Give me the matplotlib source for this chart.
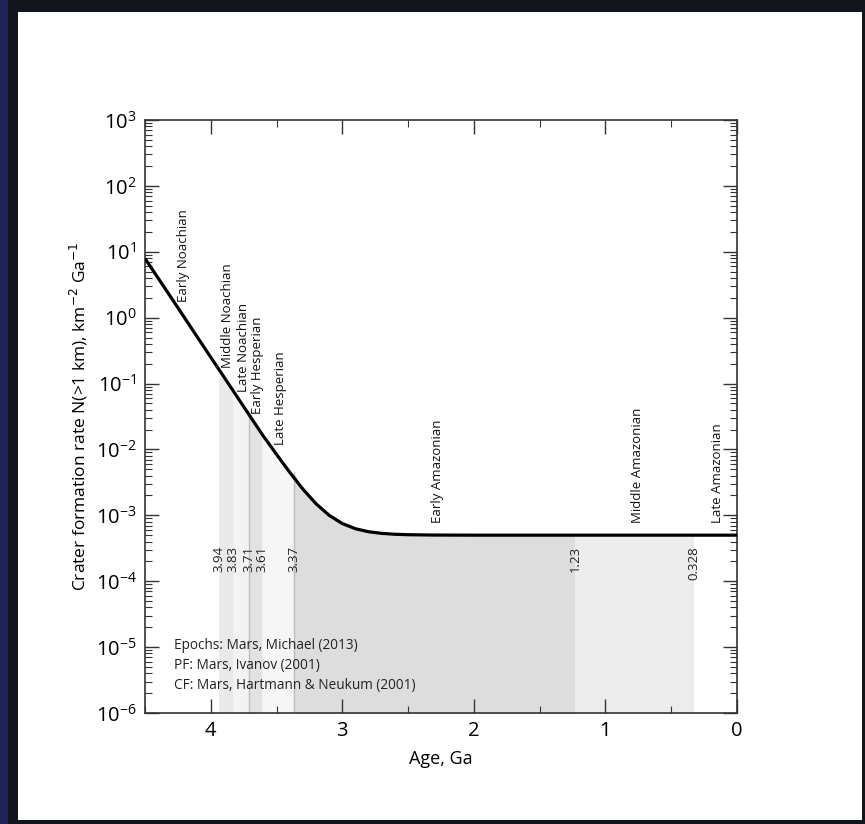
import matplotlib
matplotlib.use('Agg')
import matplotlib.pyplot as plt
from matplotlib.patches import Rectangle
from matplotlib.ticker import LogLocator, NullFormatter, MultipleLocator

plt.rcParams['font.family'] = ['Open Sans', 'DejaVu Sans']

# crater formation rate (age in Ga, rate in km^-2 Ga^-1)
ages = [4.5, 4.4, 4.3, 4.2, 4.1, 4.0, 3.9, 3.8, 3.7, 3.6, 3.5, 3.4, 3.3,
        3.2, 3.1, 3.0, 2.9, 2.8, 2.7, 2.6, 2.5, 2.3, 2.0, 1.0, 0.0]
rates = [7.9, 3.98, 2.0, 1.0, 0.50, 0.25, 0.126, 0.063, 0.0316, 0.0159,
         0.0084, 0.0045, 0.0025, 0.0015, 0.0010, 0.00075, 0.000626,
         0.000563, 0.000532, 0.000516, 0.000508, 0.000502, 0.0005,
         0.0005, 0.0005]

# epoch boundaries (Ga) and shading of the band that starts at each one
bounds = [3.94, 3.83, 3.71, 3.61, 3.37, 1.23, 0.328, 0.0]
band_colors = ['#e9e9e9', '#f3f3f3', '#e2e2e2', '#f6f6f6', '#dddddd', '#ececec', '#ffffff']
bound_labels = ['3.94', '3.83', '3.71', '3.61', '3.37', '1.23', '0.328']

epoch_names = ['Early Noachian', 'Middle Noachian', 'Late Noachian', 'Early Hesperian',
               'Late Hesperian', 'Early Amazonian', 'Middle Amazonian', 'Late Amazonian']
epoch_x = [4.21, 3.87, 3.755, 3.645, 3.47, 2.28, 0.76, 0.145]
epoch_y = [1.7, 0.17, 0.074, 0.035, 0.0117, 7.7e-4, 7.7e-4, 7.7e-4]

notes = ['Epochs: Mars, Michael (2013)', 'PF: Mars, Ivanov (2001)',
         'CF: Mars, Hartmann & Neukum (2001)']


def rate_at(a):
    # nearest listed value, for the top of each shaded band
    for i in range(len(ages) - 1):
        if ages[i] >= a >= ages[i + 1]:
            return rates[i] if abs(ages[i] - a) < abs(ages[i + 1] - a) else rates[i + 1]
    return rates[-1]


fig = plt.figure(figsize=(8.65, 8.24), dpi=100, facecolor='#12151c')

# screenshot frame: navy strip, dark border, white page
bg = fig.add_axes([0, 0, 1, 1], zorder=-10)
bg.set_xlim(0, 865)
bg.set_ylim(824, 0)
bg.axis('off')
bg.add_patch(Rectangle((0, 0), 8, 824, facecolor='#1d2355', edgecolor='none'))
bg.add_patch(Rectangle((18, 12), 844, 808, facecolor='white', edgecolor='none'))

ax = fig.add_axes([145 / 865, 1 - 713 / 824, 592 / 865, 593 / 824])
ax.set_facecolor('none')

# shaded epoch bands under the curve
for i in range(len(bounds) - 1):
    left, right = bounds[i], bounds[i + 1]
    xs = [left] + [a for a in ages if left > a > right] + [right]
    ys = [rate_at(left)] + [r for a, r in zip(ages, rates) if left > a > right] + [rate_at(right)]
    ax.fill_between(xs, 1e-6, ys, color=band_colors[i], linewidth=0, zorder=1)

for b in [3.71, 3.37]:
    ax.plot([b, b], [1e-6, rate_at(b)], color='#bdbdbd', lw=1, zorder=1.5)

ax.plot(ages, rates, color='black', lw=2.3, zorder=3, solid_capstyle='butt')

for b, lab in zip(bounds, bound_labels):
    ax.text(b, 3.4e-4, lab, rotation=90, ha='center', va='top', fontsize=9.5, color='#222222')

for name, x, y in zip(epoch_names, epoch_x, epoch_y):
    ax.text(x, y, name, rotation=90, ha='center', va='bottom', fontsize=9.5, color='#111111')

for i, t in enumerate(notes):
    ax.text(4.28, 1.05e-5 / (2.0 ** i), t, ha='left', va='center', fontsize=9.8, color='#222222')

ax.set_yscale('log')
ax.set_ylim(1e-6, 1e3)
ax.set_xlim(4.5, 0)

ax.xaxis.set_major_locator(MultipleLocator(1))
ax.xaxis.set_minor_locator(MultipleLocator(0.5))
ax.yaxis.set_major_locator(LogLocator(base=10, numticks=20))
ax.yaxis.set_minor_locator(LogLocator(base=10, subs=range(2, 10), numticks=20))
ax.yaxis.set_minor_formatter(NullFormatter())

ax.tick_params(which='both', direction='in', top=True, right=True, color='#333333')
ax.tick_params(which='major', length=10, width=1, labelsize=14.5, pad=6)
ax.tick_params(which='minor', length=5, width=0.8)
for s in ax.spines.values():
    s.set_color('#333333')
    s.set_linewidth(1.2)

ax.set_xlabel('Age, Ga', fontsize=13, labelpad=6)
ax.set_ylabel('Crater formation rate N(>1 km), km$^{-2}$ Ga$^{-1}$', fontsize=12.5, labelpad=4)

fig.savefig('out.png', dpi=100, facecolor=fig.get_facecolor())
